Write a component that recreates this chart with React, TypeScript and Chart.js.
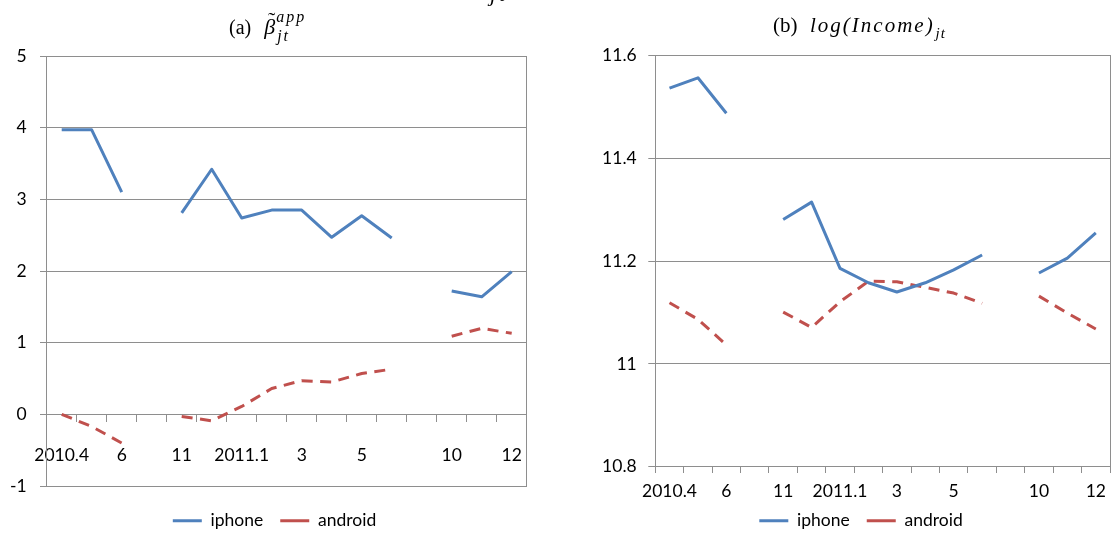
import React, { useEffect, useRef } from "react";
import { Chart, registerables } from "chart.js";

Chart.register(...registerables);

// ---------- data ----------
const months = [
  "2010.4", "2010.5", "2010.6", "2010.7-10", "2010.11", "2010.12",
  "2011.1", "2011.2", "2011.3", "2011.4", "2011.5", "2011.6",
  "2011.7-9", "2011.10", "2011.11", "2011.12",
];
const monthTickLabels = ["2010.4", "", "6", "", "11", "", "2011.1", "", "3", "", "5", "", "", "10", "", "12"];
const seriesNames = ["iphone", "android"];

const betaIphone = [3.97, 3.97, 3.1, null, 2.81, 3.42, 2.74, 2.85, 2.85, 2.47, 2.77, 2.46, null, 1.72, 1.64, 1.99];
const betaAndroid = [0.0, -0.17, -0.4, null, -0.03, -0.09, 0.11, 0.36, 0.47, 0.45, 0.57, 0.63, null, 1.09, 1.2, 1.13];

const incomeIphone = [11.537, 11.557, 11.488, null, 11.281, 11.315, 11.186, 11.158, 11.14, 11.158, 11.183, 11.212, null, 11.177, 11.206, 11.255];
const incomeAndroid = [11.119, 11.087, 11.037, null, 11.101, 11.071, 11.121, 11.161, 11.16, 11.149, 11.138, 11.118, null, 11.132, 11.099, 11.068];

const betaTicks = [-1, 0, 1, 2, 3, 4, 5];
const incomeTicks = [10.8, 11, 11.2, 11.4, 11.6];

const titleA = { label: "(a)", symbol: "β", accent: "˜", sup: "app", sub: "jt" };
const titleB = { label: "(b)", expr: "log(Income)", sub: "jt" };
const captionFragment = "jt";

// ---------- styles ----------
const GRID = "#8e8e8e";
const BLUE = "#4f81bd";
const RED = "#c0504d";
const TICK_FONT = { family: "Lato", size: 17.5 };
const SERIF = "'Liberation Serif', serif";

function drawTitleA(ctx: CanvasRenderingContext2D) {
  const base = 34;
  ctx.font = `20px ${SERIF}`;
  ctx.fillText(titleA.label, 229, base);
  let x = 229 + ctx.measureText(titleA.label).width + 13;
  ctx.font = `italic 22px ${SERIF}`;
  ctx.fillText(titleA.symbol, x, base);
  const bw = ctx.measureText(titleA.symbol).width;
  ctx.font = `22px ${SERIF}`;
  const tw = ctx.measureText(titleA.accent).width;
  ctx.fillText(titleA.accent, x + bw / 2 - tw / 2 + 2, base - 7);
  x += bw + 1;
  ctx.font = `italic 16px ${SERIF}`;
  (ctx as any).letterSpacing = "2px";
  ctx.fillText(titleA.sup, x, base - 12);
  ctx.fillText(titleA.sub, x + 1, base + 7);
  (ctx as any).letterSpacing = "0px";
  // clipped fragment of the caption above
  ctx.font = `italic 22px ${SERIF}`;
  (ctx as any).letterSpacing = "3px";
  ctx.fillText(captionFragment, 490, 1);
  (ctx as any).letterSpacing = "0px";
}

function drawTitleB(ctx: CanvasRenderingContext2D) {
  const base = 32;
  ctx.font = `21px ${SERIF}`;
  ctx.fillText(titleB.label, 213, base);
  ctx.font = `italic 21px ${SERIF}`;
  (ctx as any).letterSpacing = "2px";
  ctx.fillText(titleB.expr, 250, base);
  const w = ctx.measureText(titleB.expr).width;
  ctx.font = `italic 15px ${SERIF}`;
  (ctx as any).letterSpacing = "1px";
  ctx.fillText(titleB.sub, 250 + w + 1, base + 6);
  (ctx as any).letterSpacing = "0px";
}

function buildConfig(p: any) {
  return {
    type: "line",
    data: {
      labels: months,
      datasets: [
        {
          label: seriesNames[0],
          data: p.iphone,
          borderColor: BLUE,
          backgroundColor: BLUE,
          borderWidth: 3,
          pointRadius: 0,
          pointHoverRadius: 0,
          spanGaps: false,
          tension: 0,
          fill: false,
          borderJoinStyle: "round",
        },
        {
          label: seriesNames[1],
          data: p.android,
          borderColor: RED,
          backgroundColor: RED,
          borderWidth: 3,
          borderDash: [11, 7.5],
          pointRadius: 0,
          pointHoverRadius: 0,
          spanGaps: false,
          tension: 0,
          fill: false,
          borderJoinStyle: "round",
        },
      ],
    },
    options: {
      responsive: false,
      animation: false,
      devicePixelRatio: 1,
      events: [],
      layout: { padding: p.padding },
      scales: {
        x: {
          type: "category",
          offset: true,
          position: p.xPos,
          afterFit: (s: any) => {
            s.height = 0;
          },
          grid: {
            offset: true,
            drawOnChartArea: false,
            drawTicks: true,
            tickLength: p.xTickLength,
            color: GRID,
            lineWidth: 1,
          },
          border: { display: true, color: GRID, width: 1 },
          ticks: {
            autoSkip: false,
            maxRotation: 0,
            minRotation: 0,
            padding: p.xTickPadding,
            color: "#000",
            font: TICK_FONT,
            callback: (_v: any, i: number) => monthTickLabels[i],
          },
        },
        y: {
          type: "linear",
          position: "left",
          min: p.min,
          max: p.max,
          afterBuildTicks: (s: any) => {
            s.ticks = p.ticks.map((v: number) => ({ value: v }));
          },
          afterFit: (s: any) => {
            s.width = p.yWidth;
          },
          grid: { color: GRID, lineWidth: 1, drawTicks: true, tickLength: p.yTickLength },
          border: { display: true, color: GRID, width: 1 },
          ticks: {
            padding: p.yTickPadding,
            color: "#000",
            font: TICK_FONT,
            callback: (v: any) => String(v),
          },
        },
        y2: {
          type: "linear",
          position: "right",
          display: true,
          afterFit: (s: any) => {
            s.width = p.y2Width;
          },
          grid: { drawOnChartArea: false, drawTicks: false },
          border: { display: true, color: GRID, width: 1 },
          ticks: { display: false },
        },
      },
      plugins: {
        tooltip: { enabled: false },
        title: { display: false },
        legend: {
          position: "bottom",
          title: { display: true, text: "", padding: { top: 1, bottom: p.legendGap }, font: { size: 5 } },
          labels: {
            usePointStyle: true,
            pointStyle: "line",
            pointStyleWidth: 29,
            padding: 17,
            color: "#000",
            font: TICK_FONT,
          },
        },
      },
    },
    plugins: [
      {
        id: "mathTitle",
        afterDraw(chart: any) {
          const ctx = chart.ctx as CanvasRenderingContext2D;
          ctx.save();
          ctx.fillStyle = "#000";
          ctx.textAlign = "left";
          ctx.textBaseline = "alphabetic";
          p.drawTitle(ctx);
          ctx.restore();
        },
      },
    ],
  };
}

const panelA = {
  iphone: betaIphone,
  android: betaAndroid,
  min: -1,
  max: 5,
  ticks: betaTicks,
  xPos: { y: 0 },
  xTickLength: 7,
  xTickPadding: 23.5,
  yWidth: 46.7,
  y2Width: 22.3,
  yTickLength: 6.7,
  yTickPadding: 13.3,
  legendGap: 2,
  padding: { left: 0, right: 0, top: 56, bottom: 20.5 },
  drawTitle: drawTitleA,
};

const panelB = {
  iphone: incomeIphone,
  android: incomeAndroid,
  min: 10.8,
  max: 11.6,
  ticks: incomeTicks,
  xPos: { y: 10.8 },
  xTickLength: 6,
  xTickPadding: 7.8,
  yWidth: 95.3,
  y2Width: 52,
  yTickLength: 7,
  yTickPadding: 11.6,
  legendGap: 21.3,
  padding: { left: 0, right: 0, top: 55.7, bottom: 20.5 },
  drawTitle: drawTitleB,
};

export default function App() {
  const leftRef = useRef<HTMLCanvasElement>(null);
  const rightRef = useRef<HTMLCanvasElement>(null);

  useEffect(() => {
    const a = new Chart(leftRef.current as HTMLCanvasElement, buildConfig(panelA) as any);
    const b = new Chart(rightRef.current as HTMLCanvasElement, buildConfig(panelB) as any);
    return () => {
      a.destroy();
      b.destroy();
    };
  }, []);

  return (
    <div
      style={{
        position: "absolute",
        left: 0,
        top: 0,
        width: 1113,
        height: 533,
        overflow: "hidden",
        background: "#fff",
      }}
    >
      <canvas
        ref={leftRef}
        width={549}
        height={560}
        style={{ position: "absolute", left: 0, top: 0, width: 549, height: 560 }}
      />
      <canvas
        ref={rightRef}
        width={602}
        height={560}
        style={{ position: "absolute", left: 560, top: 0, width: 602, height: 560 }}
      />
    </div>
  );
}
